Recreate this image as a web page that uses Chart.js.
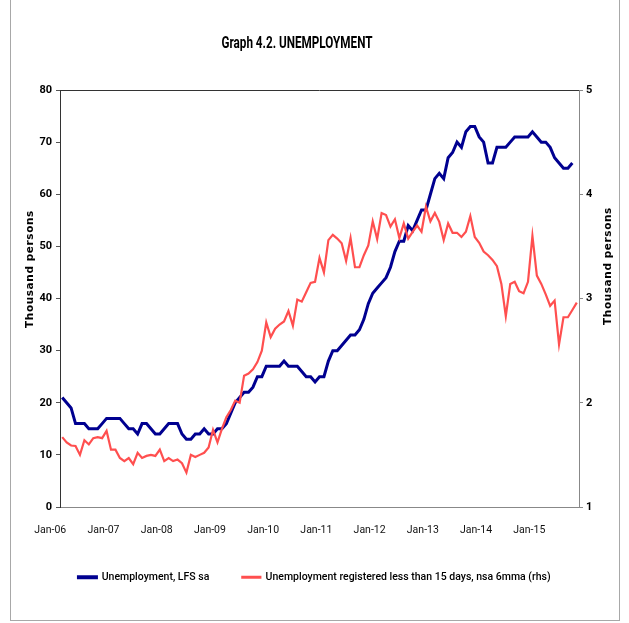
<!DOCTYPE html>
<html>
<head>
<meta charset="utf-8">
<script src="https://cdn.jsdelivr.net/npm/chart.js@4.4.0/dist/chart.umd.min.js"></script>
<style>
  html, body { margin: 0; padding: 0; background: #fff; }
  #wrap { position: absolute; left: 0; top: 0; width: 629px; height: 623px; }
  #frame { position: absolute; left: 10px; top: -2px; width: 610px; height: 623px; border: 1px solid #a8a8a8; box-sizing: border-box; }
  canvas { position: absolute; left: 0; top: 0; }
</style>
</head>
<body>
<div id="wrap">
  <div id="frame"></div>
  <canvas id="c" width="629" height="623"></canvas>
</div>
<script>
// ---- data ----
const chartTitle = 'Graph 4.2. UNEMPLOYMENT';
const axisTitle = 'Thousand persons';
const years = ['06','07','08','09','10','11','12','13','14','15'];
const monthNames = ['Jan','Feb','Mar','Apr','May','Jun','Jul','Aug','Sep','Oct','Nov','Dec'];
const categories = [];
years.forEach(y => monthNames.forEach(m => categories.push(m + '-' + y)));
categories.length = 117; // Jan-06 .. Sep-15
const xTickLabels = ['Jan-06','Jan-07','Jan-08','Jan-09','Jan-10','Jan-11','Jan-12','Jan-13','Jan-14','Jan-15'];

const seriesNames = ['Unemployment, LFS sa', 'Unemployment registered less than 15 days, nsa 6mma (rhs)'];

const lfs = [
  21,20,19,16,16,16,15,15,15,16,17,17,
  17,17,16,15,15,14,16,16,15,14,14,15,
  16,16,16,14,13,13,14,14,15,14,14,15,
  15,16,18,20,21,22,22,23,25,25,27,27,
  27,27,28,27,27,27,26,25,25,24,25,25,
  28,30,30,31,32,33,33,34,36,39,41,42,
  43,44,46,49,51,51,54,53,55,57,57,60,
  63,64,63,67,68,70,69,72,73,73,71,70,
  66,66,69,69,69,70,71,71,71,71,72,71,
  70,70,69,67,66,65,65,66,null
];
const registered = [
  1.67,1.62,1.59,1.585,1.50,1.64,1.60,1.66,1.67,1.66,1.73,1.55,
  1.55,1.47,1.44,1.47,1.41,1.52,1.47,1.49,1.50,1.49,1.55,1.44,
  1.47,1.44,1.455,1.42,1.33,1.50,1.48,1.50,1.52,1.57,1.74,1.62,
  1.75,1.86,1.93,2.02,2.00,2.26,2.28,2.32,2.39,2.50,2.77,2.63,
  2.71,2.75,2.78,2.88,2.74,2.99,2.97,3.06,3.15,3.16,3.39,3.25,
  3.56,3.61,3.575,3.53,3.36,3.58,3.30,3.30,3.415,3.51,3.74,3.57,
  3.82,3.80,3.69,3.76,3.58,3.72,3.575,3.64,3.70,3.64,3.88,3.74,
  3.82,3.735,3.56,3.72,3.63,3.63,3.59,3.64,3.79,3.59,3.535,3.45,
  3.415,3.37,3.31,3.14,2.83,3.14,3.16,3.07,3.05,3.16,3.60,3.22,
  3.14,3.04,2.93,2.98,2.56,2.82,2.82,2.89,2.96
];
const leftTicks = [0,10,20,30,40,50,60,70,80];
const rightTicks = [1,2,3,4,5];

// ---- styling ----
const FONT = "Roboto, 'Liberation Sans', sans-serif";
const WIDE = "'DejaVu Sans', Verdana, sans-serif";
const BLUE = '#000090';
const RED = '#FF4F4F';

const textPlugin = {
  id: 'texts',
  beforeDatasetsDraw(chart) {
    const { ctx, chartArea: a } = chart;
    ctx.save();
    ctx.strokeStyle = '#333';
    ctx.lineWidth = 1;
    ctx.beginPath();
    ctx.moveTo(a.left, a.top + 0.5);
    ctx.lineTo(a.right, a.top + 0.5);
    ctx.stroke();
    ctx.restore();
  },
  afterDraw(chart) {
    const { ctx, chartArea: a } = chart;
    // main title (condensed to the reference width)
    ctx.save();
    ctx.fillStyle = '#000';
    ctx.textAlign = 'center';
    ctx.textBaseline = 'middle';
    ctx.font = 'bold 16px ' + FONT;
    const w = ctx.measureText(chartTitle).width;
    ctx.translate(a.left + 237, a.top - 46);
    ctx.scale(151 / w, 1);
    ctx.fillText(chartTitle, 0, 0);
    ctx.restore();
    // axis titles
    [[a.left - 30, a.top + 179], [a.right + 29, a.top + 176]].forEach(([x, y]) => {
      ctx.save();
      ctx.fillStyle = '#000';
      ctx.textAlign = 'center';
      ctx.textBaseline = 'middle';
      ctx.font = 'bold 10.5px ' + WIDE;
      if ('letterSpacing' in ctx) ctx.letterSpacing = '0.6px';
      ctx.translate(x, y);
      ctx.rotate(-Math.PI / 2);
      ctx.fillText(axisTitle, 0, 0);
      ctx.restore();
    });
  }
};

new Chart(document.getElementById('c'), {
  type: 'line',
  data: {
    labels: categories,
    datasets: [
      { label: seriesNames[0], data: lfs, yAxisID: 'y', borderColor: BLUE, backgroundColor: BLUE,
        borderWidth: 3, pointRadius: 0, tension: 0, order: 1 },
      { label: seriesNames[1], data: registered, yAxisID: 'y2', borderColor: RED, backgroundColor: RED,
        borderWidth: 2.2, pointRadius: 0, tension: 0, order: 0 }
    ]
  },
  options: {
    responsive: false,
    animation: false,
    devicePixelRatio: 1,
    layout: { padding: { top: 90, bottom: 30.5, left: 0, right: 0 } },
    plugins: {
      legend: {
        position: 'bottom',
        labels: {
          font: { family: FONT, size: 10.5, weight: '500' },
          color: '#000',
          boxWidth: 18,
          boxHeight: 1,
          padding: 33,
          sort: (a, b) => a.datasetIndex - b.datasetIndex
        }
      },
      tooltip: { enabled: false },
      title: { display: false }
    },
    scales: {
      x: {
        type: 'category',
        offset: true,
        grid: { display: false, drawTicks: false },
        border: { display: true, color: '#888', width: 1 },
        afterFit: s => { s.height = 32; },
        ticks: {
          autoSkip: false,
          maxRotation: 0,
          minRotation: 0,
          padding: 17,
          labelOffset: -12,
          color: '#111',
          font: { family: FONT, size: 10.5 },
          callback: function (v) {
            const lab = this.getLabelForValue(v);
            return xTickLabels.includes(lab) ? lab : null;
          }
        }
      },
      y: {
        position: 'left',
        min: 0, max: 80,
        afterFit: s => { s.width = 60; },
        afterBuildTicks: s => { s.ticks = leftTicks.map(v => ({ value: v })); },
        grid: { drawOnChartArea: false, drawTicks: true, tickLength: 4, color: '#555' },
        border: { display: true, color: '#333', width: 1 },
        ticks: { padding: 4, color: '#000', font: { family: FONT, size: 11, weight: 'bold' } }
      },
      y2: {
        position: 'right',
        min: 1, max: 5,
        afterFit: s => { s.width = 50; },
        afterBuildTicks: s => { s.ticks = rightTicks.map(v => ({ value: v })); },
        grid: { drawOnChartArea: false, drawTicks: true, tickLength: 4, color: '#888' },
        border: { display: true, color: '#888', width: 1 },
        ticks: { padding: 3, color: '#000', font: { family: FONT, size: 11, weight: 'bold' } }
      }
    }
  },
  plugins: [textPlugin]
});
</script>
</body>
</html>
